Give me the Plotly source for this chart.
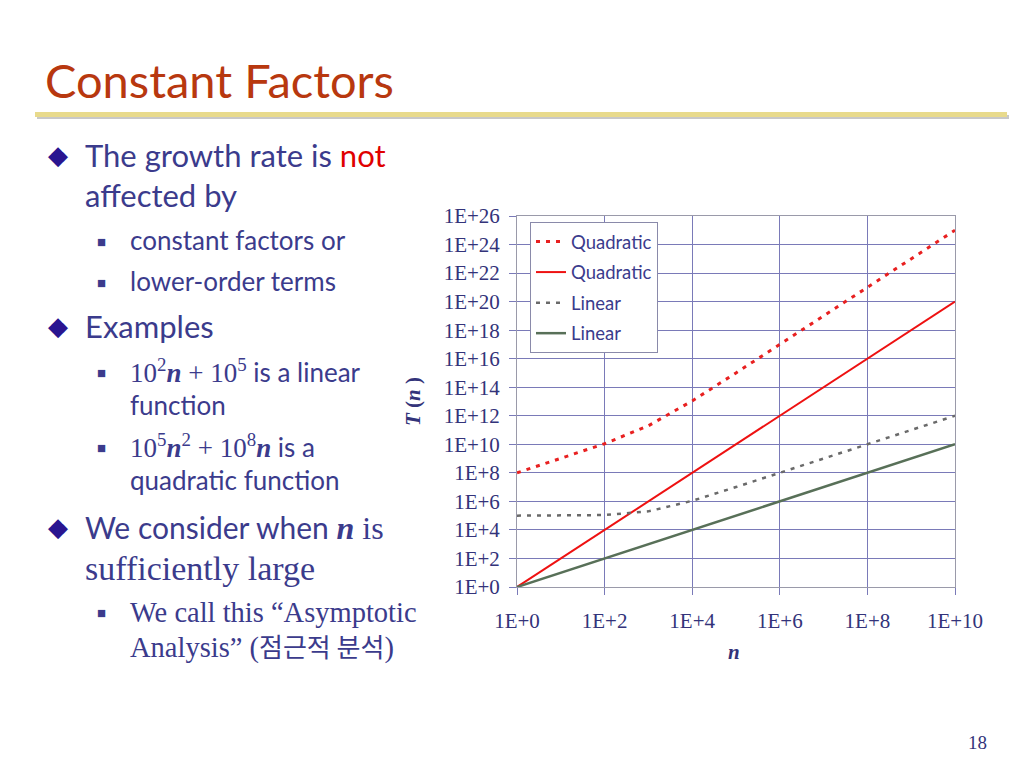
import plotly.graph_objects as go

# ---- data ----
n_values = [1e0, 1e1, 1e2, 1e3, 1e4, 1e5, 1e6, 1e7, 1e8, 1e9, 1e10]
quadratic_const = [1.001e8, 1.01e9, 1.1e10, 2e11, 1.1e13, 1.01e15, 1.001e17, 1.0001e19, 1e21, 1e23, 1e25]
quadratic_plain = [1e0, 1e2, 1e4, 1e6, 1e8, 1e10, 1e12, 1e14, 1e16, 1e18, 1e20]
linear_const = [1.001e5, 1.01e5, 1.1e5, 2e5, 1.1e6, 1.01e7, 1.001e8, 1.0001e9, 1e10, 1e11, 1e12]
linear_plain = [1e0, 1e1, 1e2, 1e3, 1e4, 1e5, 1e6, 1e7, 1e8, 1e9, 1e10]
series_names = ["Quadratic", "Quadratic", "Linear", "Linear"]

x_tick_exps = [0, 2, 4, 6, 8, 10]
y_tick_exps = list(range(0, 27, 2))
x_tick_text = ["1E+%d" % e for e in x_tick_exps]
y_tick_text = ["1E+%d" % e for e in y_tick_exps]

W, H = 1024, 768
TXT = "#3b3b8c"
SANS = "Lato, 'Open Sans', sans-serif"
SERIF = "'Liberation Serif', 'Times New Roman', serif"


def px(x):
    return x / W


def py(y):
    return 1 - y / H


fig = go.Figure()
styles = [
    dict(color="#e82020", width=3, dash="4px,6px"),
    dict(color="#ee1111", width=2),
    dict(color="#6a6a6a", width=2.5, dash="4px,6px"),
    dict(color="#587058", width=2.5),
]
for i, (yy, st) in enumerate(zip([quadratic_const, quadratic_plain, linear_const, linear_plain], styles)):
    fig.add_trace(go.Scatter(x=n_values, y=yy, mode="lines", name=series_names[i],
                             legendgroup="g%d" % i, line=st))

axis_common = dict(
    showgrid=True, gridcolor="#7a7ab8", gridwidth=1,
    showline=True, linecolor="#9a9aaa", linewidth=1, mirror=True,
    ticks="outside", ticklen=7, tickcolor="#7a7ab8",
    tickfont=dict(family=SERIF, size=21, color="#33337a"),
    zeroline=False, automargin=False,
)

fig.update_layout(
    width=W, height=H, autosize=False,
    margin=dict(l=0, r=0, t=0, b=0, pad=0, autoexpand=False),
    paper_bgcolor="white", plot_bgcolor="white",
    xaxis=dict(type="log", range=[0, 10], domain=[px(517), px(955)],
               tickmode="array", tickvals=[10.0 ** e for e in x_tick_exps], ticktext=x_tick_text,
               ticklabelstandoff=8, **axis_common),
    yaxis=dict(type="log", range=[0, 26], domain=[py(587), py(216)],
               tickmode="array", tickvals=[10.0 ** e for e in y_tick_exps], ticktext=y_tick_text,
               ticklabelstandoff=5, **axis_common),
    showlegend=True,
    legend=dict(x=px(530), y=py(222), xanchor="left", yanchor="top",
                bgcolor="white", bordercolor="#8a8aaa", borderwidth=1,
                font=dict(family=SANS, size=18.5, color=TXT),
                itemwidth=30, tracegroupgap=3.5),
)

ann = []


def text(x, y, s, size, color=TXT, family=SANS, xanchor="left", **kw):
    ann.append(dict(x=px(x), y=py(y), xref="paper", yref="paper", text=s, showarrow=False,
                    xanchor=xanchor, yanchor="middle", font=dict(family=family, size=size, color=color), **kw))


# title
text(43, 80, "Constant Factors", 47, color="#b8380f")

# diamonds
for yy in [154, 325, 526]:
    text(58, yy, "◆", 26, color="#2a1590", xanchor="center")
# squares
for yy in [241, 282, 372, 447, 612]:
    text(101, yy, "■", 15, color="#3b3b8c", xanchor="center")

text(83, 155, "The growth rate is <span style='color:#e00000'>not</span>", 31)
text(83, 195, "affected by", 31)
text(128, 240, "constant factors or", 26)
text(128, 281, "lower-order terms", 26)
text(83, 326, "Examples", 31)
text(128, 371,
     "<span style='font-family:Liberation Serif;font-size:27px'>10<sup>2</sup><b><i>n</i></b> + 10<sup>5</sup></span> is a linear", 26)
text(128, 405, "function", 26)
text(128, 446,
     "<span style='font-family:Liberation Serif;font-size:27px'>10<sup>5</sup><b><i>n</i></b><sup>2</sup> + 10<sup>8</sup><b><i>n</i></b></span> is a", 26)
text(128, 480, "quadratic function", 26)
text(83, 527, "We consider when <span style='font-family:Liberation Serif;font-size:32px'><b><i>n</i></b> is</span>", 30)
text(83, 568, "sufficiently large", 34, family=SERIF)
text(128, 612, "We call this “Asymptotic", 28.5, family=SERIF)
text(128, 645, "Analysis” (<span style='font-family:Noto Sans CJK KR;font-size:26px'>점근적 분석</span>)", 28.5, family=SERIF)

# axis titles
text(413, 402, "<b><i>T</i> (<i>n</i> )</b>", 21, color="#33337a", family=SERIF, xanchor="center", textangle=-90)
text(734, 652, "<b><i>n</i></b>", 21, color="#33337a", family=SERIF, xanchor="center")

# page number
text(977, 742, "18", 19, color="#33337a", family=SERIF, xanchor="center")

fig.update_layout(annotations=ann)

# title underline bar with shadow
fig.add_shape(type="rect", xref="paper", yref="paper", x0=px(37), x1=px(1009), y0=py(119), y1=py(115),
              fillcolor="#c8c8c8", line=dict(width=0), layer="below")
fig.add_shape(type="rect", xref="paper", yref="paper", x0=px(35), x1=px(1007), y0=py(117), y1=py(112),
              fillcolor="#e8da8c", line=dict(width=0))

fig.write_html("out.html", config={"displayModeBar": False},
               post_script="document.body.style.margin='0';document.body.style.overflow='hidden';")
